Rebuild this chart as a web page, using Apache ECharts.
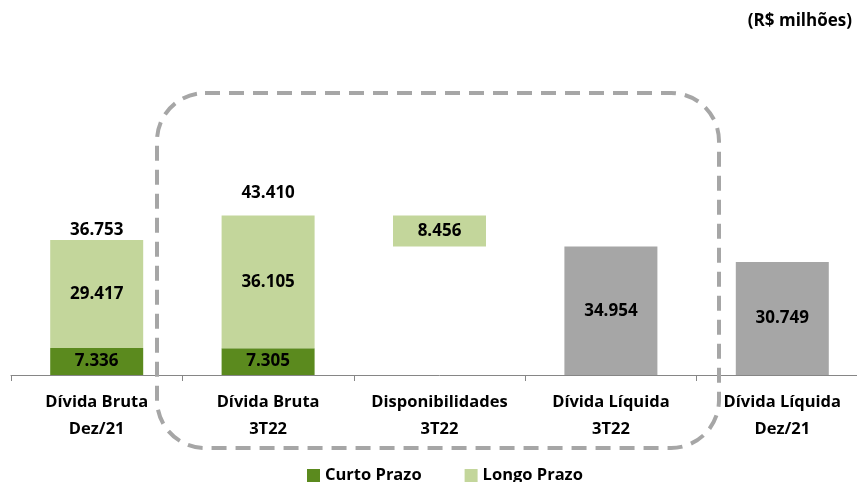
<!DOCTYPE html>
<html><head><meta charset="utf-8">
<script src="https://cdn.jsdelivr.net/npm/echarts@6/dist/echarts.min.js"></script>
<style>html,body{margin:0;padding:0;background:#fff;overflow:hidden}#c{width:868px;height:482px}</style>
</head><body><div id="c"></div>
<script>
const categories = ['Dívida Bruta\nDez/21','Dívida Bruta\n3T22','Disponibilidades\n3T22','Dívida Líquida\n3T22','Dívida Líquida\nDez/21'];
const base      = [null, null, 34954, null, null];
const curto     = [7336, 7305, null, null, null];
const longo     = [29417, 36105, 8456, null, null];
const liquida   = [null, null, null, 34954, 30749];
const totals    = [36753, 43410, null, null, null];

const FONT = 'Open Sans';
const fmt = v => v.toLocaleString('de-DE');
const chart = echarts.init(document.getElementById('c'), null, {renderer:'canvas'});
const lbl = {show:true, position:'inside', color:'#000', fontWeight:'bold', fontSize:17, fontFamily:FONT,
  formatter: p => fmt(p.value)};
chart.setOption({
  animation:false,
  textStyle:{fontFamily:FONT},
  grid:{left:11, right:0, top:191.35, bottom:107, containLabel:false},
  xAxis:{type:'category', data:categories, boundaryGap:true,
    axisLine:{lineStyle:{color:'#868686', width:1}},
    axisTick:{show:true, length:6, lineStyle:{color:'#868686'}},
    axisLabel:{color:'#000', fontWeight:'bold', fontSize:16.5, fontFamily:FONT, lineHeight:27, margin:14, interval:0}},
  yAxis:{type:'value', min:0, max:50000, show:false, splitLine:{show:false}},
  legend:{top:462, left:302, itemWidth:13, itemHeight:13, itemGap:43, icon:'rect',
    data:['Curto Prazo','Longo Prazo'],
    textStyle:{color:'#000', fontWeight:'bold', fontSize:16.5, fontFamily:FONT}},
  series:[
    {name:'base', type:'bar', stack:'s', data:base, barWidth:93, itemStyle:{color:'transparent'}, silent:true},
    {name:'Curto Prazo', type:'bar', stack:'s', data:curto, barWidth:93, itemStyle:{color:'#5B8A1E'}, label:lbl},
    {name:'Longo Prazo', type:'bar', stack:'s', data:longo, barWidth:93, itemStyle:{color:'#C3D69B'}, label:lbl},
    {name:'Dívida Líquida', type:'bar', stack:'s', data:liquida, barWidth:93, itemStyle:{color:'#A6A6A6'}, label:lbl},
    {name:'Total', type:'scatter', symbolSize:0, silent:true, itemStyle:{color:'#000', opacity:1},
      label:{show:true, position:'top', color:'#000', fontWeight:'bold', fontSize:17, fontFamily:FONT, formatter:p=>fmt(p.value)},
      data: totals.map((v,i)=> v==null? null : {value:v, label:{distance: i===1?14:1}})}
  ],
  graphic:[
    {type:'rect', shape:{x:157, y:93, width:562, height:355, r:48}, z:100,
      style:{fill:'none', stroke:'#A6A6A6', lineWidth:4, lineDash:[15,9]}},
    {type:'text', right:16, top:13, style:{text:'(R$ milhões)', fill:'#000', font:'bold 17px "Open Sans"'}}
  ]
});
</script></body></html>
